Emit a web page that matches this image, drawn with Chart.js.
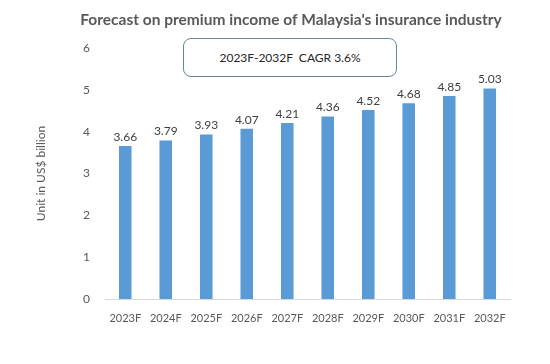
<!DOCTYPE html>
<html>
<head>
<meta charset="utf-8">
<title>Malaysia insurance premium income forecast</title>
<script src="https://cdn.jsdelivr.net/npm/chart.js@4"></script>
<style>
  html, body { margin: 0; padding: 0; background: #fff; }
  #wrap { position: relative; width: 550px; height: 364px; }
  #cagrBox {
    position: absolute; left: 183px; top: 38px; width: 212px; height: 37px;
    border: 1px solid #6a8494; border-radius: 8px; background: #fff;
    font: 12px Lato, sans-serif; color: #262626;
    display: flex; align-items: center; justify-content: center; white-space: pre;
  }
</style>
</head>
<body>
<div id="wrap">
  <canvas id="chart" width="550" height="364"></canvas>
  <div id="cagrBox">2023F-2032F  CAGR 3.6%</div>
</div>
<script>
/* data */
const years = ["2023F", "2024F", "2025F", "2026F", "2027F", "2028F", "2029F", "2030F", "2031F", "2032F"];
const premiumIncome = [3.66, 3.79, 3.93, 4.07, 4.21, 4.36, 4.52, 4.68, 4.85, 5.03];
const yTicks = [0, 1, 2, 3, 4, 5, 6];
const chartTitle = "Forecast on premium income of Malaysia's insurance industry";

const TEXT = "#595959";
const FONT = "Lato, sans-serif";

// title sits a bit right of the canvas centre, like the original
const titleText = {
  id: "titleText",
  afterDraw(chart) {
    const ctx = chart.ctx;
    ctx.save();
    ctx.font = "bold 15.5px " + FONT;
    ctx.fillStyle = TEXT;
    ctx.textAlign = "center";
    ctx.textBaseline = "middle";
    ctx.fillText(chartTitle, 291, 20);
    ctx.restore();
  },
};

// value labels above each bar
const barLabels = {
  id: "barLabels",
  afterDatasetsDraw(chart) {
    const ctx = chart.ctx;
    const meta = chart.getDatasetMeta(0);
    ctx.save();
    ctx.font = "12px " + FONT;
    ctx.fillStyle = "#404040";
    ctx.textAlign = "center";
    ctx.textBaseline = "bottom";
    meta.data.forEach((bar, i) => {
      ctx.fillText(premiumIncome[i].toFixed(2), bar.x, bar.y - 3);
    });
    ctx.restore();
  },
};

new Chart(document.getElementById("chart"), {
  type: "bar",
  data: {
    labels: years,
    datasets: [{
      data: premiumIncome,
      backgroundColor: "#5b9bd5",
      categoryPercentage: 1,
      barPercentage: 0.31,
    }],
  },
  options: {
    responsive: false,
    animation: false,
    layout: { padding: { top: 48, right: 40, bottom: 0, left: 0 } },
    plugins: {
      legend: { display: false },
      tooltip: { enabled: false },
      title: { display: false },
    },
    scales: {
      x: {
        grid: { display: false, drawTicks: false },
        border: { color: "#d9d9d9" },
        ticks: { color: TEXT, font: { family: FONT, size: 11 }, padding: 13, maxRotation: 0 },
        afterFit: (scale) => { scale.height = 65; },
      },
      y: {
        min: 0,
        max: 6,
        grid: { display: false, drawTicks: false },
        border: { display: false },
        afterBuildTicks: (scale) => { scale.ticks = yTicks.map((v) => ({ value: v })); },
        ticks: { color: TEXT, font: { family: FONT, size: 12 }, padding: 15 },
        title: {
          display: true,
          text: "Unit in US$ billion",
          color: TEXT,
          font: { family: FONT, size: 12 },
          padding: { top: 34, bottom: 0 },
        },
        afterFit: (scale) => { scale.width = 105; },
      },
    },
  },
  plugins: [barLabels, titleText],
});
</script>
</body>
</html>
